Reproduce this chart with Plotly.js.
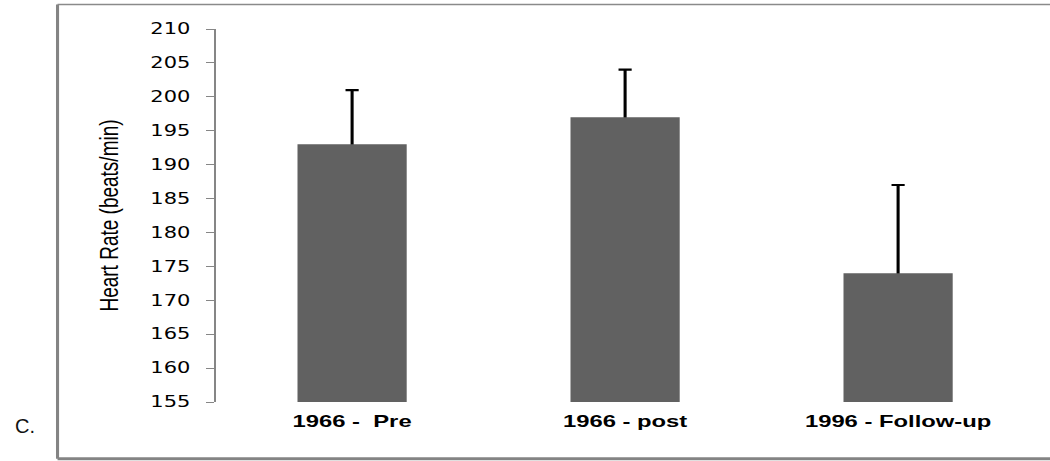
<!DOCTYPE html>
<html>
<head>
<meta charset="utf-8">
<script src="https://cdn.plot.ly/plotly-3.0.1.min.js"></script>
<style>
  html, body { margin: 0; padding: 0; background: #fff; overflow: hidden; width: 1050px; height: 461px; }
  #wrap { position: absolute; left: 0; top: 0; width: 750px; height: 461px; transform: scaleX(1.4); transform-origin: 0 0; }
  #chart { width: 750px; height: 461px; }
  #panel { position: absolute; left: 15px; top: 415px; font-family: "Liberation Sans", Arial, sans-serif; font-size: 20px; color: #111; }
</style>
</head>
<body>
<div id="wrap"><div id="chart"></div></div>
<div id="panel">C.</div>
<script>
const categories = ["1966 -\u00a0 Pre", "1966 - post", "1996 - Follow-up"];
const heartRate = [193, 197, 174];
const heartRateSD = [8, 7, 13];
const yTickValues = [155, 160, 165, 170, 175, 180, 185, 190, 195, 200, 205, 210];
const yTickLabels = ["155", "160", "165", "170", "175", "180", "185", "190", "195", "200", "205", "210"];
const yTitle = "Heart Rate (beats/min)";
const yRange = [155, 210];
const xRange = [-0.5, 2.5];

// error bars drawn on the lower subplot so the bars cover their lower half
const errTrace = {
  type: "scatter",
  mode: "markers",
  x: categories,
  y: heartRate,
  xaxis: "x",
  yaxis: "y",
  marker: { size: 1, color: "rgba(0,0,0,0)" },
  error_y: {
    type: "data",
    symmetric: true,
    array: heartRateSD,
    color: "#000",
    thickness: 2.2,
    width: 4.7
  },
  hoverinfo: "none"
};

const barTrace = {
  type: "bar",
  x: categories,
  y: heartRate,
  xaxis: "x2",
  yaxis: "y2",
  width: 0.4,
  marker: { color: "#616161", line: { width: 0 } },
  hoverinfo: "none"
};

const layout = {
  width: 750,
  height: 461,
  margin: { l: 153.6, r: 11.4, t: 29, b: 59 },
  paper_bgcolor: "rgba(0,0,0,0)",
  plot_bgcolor: "rgba(0,0,0,0)",
  showlegend: false,
  xaxis: {
    type: "category",
    range: xRange,
    showline: false,
    showgrid: false,
    zeroline: false,
    ticks: "",
    ticklabelstandoff: 7,
    tickfont: { family: "Liberation Sans, Arial, sans-serif", size: 17, color: "#000", weight: "bold" },
    fixedrange: true
  },
  xaxis2: {
    type: "category",
    overlaying: "x",
    range: xRange,
    visible: false,
    fixedrange: true
  },
  yaxis: {
    range: yRange,
    tickmode: "array",
    tickvals: yTickValues,
    ticktext: yTickLabels,
    showline: true,
    linecolor: "#868686",
    linewidth: 1,
    ticks: "outside",
    ticklen: 6,
    tickwidth: 1,
    tickcolor: "#868686",
    showgrid: false,
    zeroline: false,
    ticklabelstandoff: 8,
    tickfont: { family: "DejaVu Sans, Verdana, sans-serif", size: 15, color: "#000" },
    title: {
      text: yTitle,
      font: { family: "Liberation Sans, Arial, sans-serif", size: 19, color: "#000" },
      standoff: 17
    },
    fixedrange: true
  },
  yaxis2: {
    overlaying: "y",
    range: yRange,
    visible: false,
    fixedrange: true
  },
  shapes: [
    { type: "line", xref: "paper", yref: "paper", x0: -0.193, x1: -0.193, y0: -0.152, y1: 1.066, line: { color: "#848484", width: 2.2 } },
    { type: "line", xref: "paper", yref: "paper", x0: -0.193, x1: 1.03, y0: 1.066, y1: 1.066, line: { color: "#8a8a8a", width: 1.5 } },
    { type: "line", xref: "paper", yref: "paper", x0: -0.193, x1: 1.03, y0: -0.152, y1: -0.152, line: { color: "#848484", width: 3 } }
  ]
};

Plotly.newPlot("chart", [errTrace, barTrace], layout, { staticPlot: true, displayModeBar: false });
</script>
</body>
</html>
